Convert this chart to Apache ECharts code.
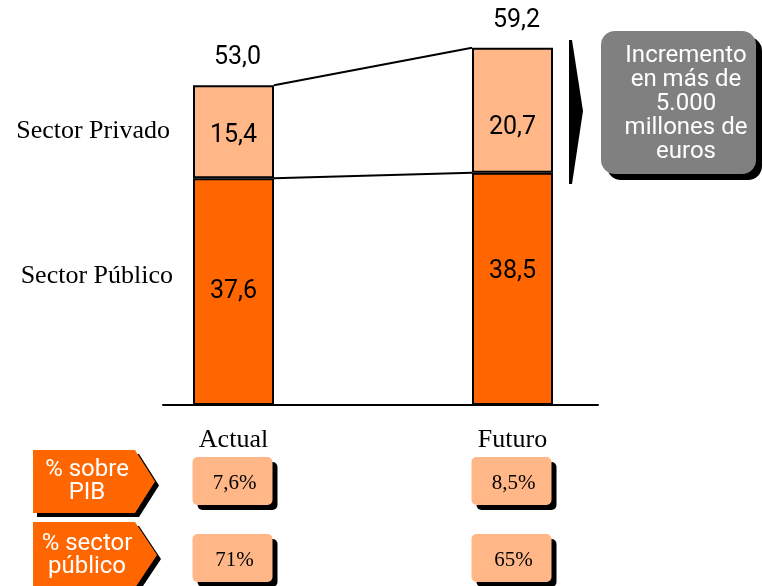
<!DOCTYPE html>
<html>
<head>
<meta charset="utf-8">
<script src="https://cdn.jsdelivr.net/npm/echarts@6/dist/echarts.min.js"></script>
<style>
  html, body { margin: 0; padding: 0; background: #fff; }
  #chart { width: 763px; height: 586px; }
</style>
</head>
<body>
<div id="chart"></div>
<script>
// datos
const categories = ['Actual', 'Futuro'];
const sectorPublico = [37.6, 38.5];
const sectorPrivado = [15.4, 20.7];
const totals = [53.0, 59.2];
const pibShare = ['7,6%', '8,5%'];
const publicShare = ['71%', '65%'];
const rowLabels = ['Sector Privado', 'Sector Público'];
const noteLines = ['Incremento', 'en más de', '5.000', 'millones de', 'euros'];

const NUMF = "Roboto, 'Liberation Sans', sans-serif";
const SERIF = "'Liberation Serif', 'Times New Roman', serif";
const ORANGE = '#FF6600';
const PEACH = '#FFB787';
const barW = 81;
// desplazamiento vertical de las etiquetas dentro de las barras
const publicoOffsets = [0, -17];
const privadoOffsets = [4, 17];

const fmt = v => v.toFixed(1).replace('.', ',');

const chart = echarts.init(document.getElementById('chart'));

chart.setOption({
  animation: false,
  grid: [
    { left: 94, right: 111, top: 43, bottom: 181 },
    { left: 163, right: 165, top: 43, bottom: 181 }
  ],
  xAxis: [
    {
      type: 'category',
      data: categories,
      axisLine: { show: false },
      axisTick: { show: false },
      axisLabel: { color: '#000', fontFamily: SERIF, fontSize: 26, margin: 22 }
    },
    {
      type: 'value', gridIndex: 1, min: 0, max: 1,
      axisLine: { show: true, lineStyle: { color: '#000', width: 2 } },
      axisTick: { show: false }, axisLabel: { show: false }, splitLine: { show: false }
    }
  ],
  yAxis: [
    { type: 'value', min: 0, max: 60, show: false },
    { type: 'value', gridIndex: 1, show: false }
  ],
  series: [
    {
      name: 'Sector Público',
      type: 'bar',
      stack: 'total',
      barWidth: barW,
      data: sectorPublico.map((v, i) => ({ value: v, label: { offset: [0, publicoOffsets[i]] } })),
      itemStyle: { color: ORANGE, borderColor: '#000', borderWidth: 2 },
      label: {
        show: true, position: 'inside', color: '#000',
        fontFamily: NUMF, fontSize: 25,
        formatter: p => fmt(p.value)
      }
    },
    {
      name: 'Sector Privado',
      type: 'bar',
      stack: 'total',
      barWidth: barW,
      data: sectorPrivado.map((v, i) => ({ value: v, label: { offset: [0, privadoOffsets[i]] } })),
      itemStyle: { color: PEACH, borderColor: '#000', borderWidth: 2 },
      label: {
        show: true, position: 'inside', color: '#000',
        fontFamily: NUMF, fontSize: 25,
        formatter: p => fmt(p.value)
      }
    },
    {
      type: 'custom',
      data: categories.map((c, i) => [i, totals[i]]),
      encode: { x: 0, y: 1 },
      z: 5,
      renderItem(params, api) {
        const i = params.dataIndex;
        const half = barW / 2;
        const top = api.coord([i, totals[i]]);
        const children = [{
          type: 'text',
          style: {
            text: fmt(totals[i]), x: top[0] + 4, y: top[1] - 27,
            align: 'center', verticalAlign: 'middle',
            fontFamily: NUMF, fontSize: 25, fill: '#000'
          }
        }];
        if (i < categories.length - 1) {
          const nTop = api.coord([i + 1, totals[i + 1]]);
          const mid = api.coord([i, sectorPublico[i]]);
          const nMid = api.coord([i + 1, sectorPublico[i + 1]]);
          children.push({
            type: 'line',
            shape: { x1: top[0] + half, y1: top[1], x2: nTop[0] - half, y2: nTop[1] },
            style: { stroke: '#000', lineWidth: 2 }
          });
          children.push({
            type: 'line',
            shape: { x1: mid[0] + half, y1: mid[1], x2: nMid[0] - half, y2: nMid[1] },
            style: { stroke: '#000', lineWidth: 2 }
          });
        }
        return { type: 'group', children };
      }
    }
  ]
});

// elementos del recuadro inferior y la nota
const g = [];

// etiquetas de fila
g.push({ type: 'text', right: 763 - 170, top: 118, style: { text: rowLabels[0], font: '26px ' + SERIF, fill: '#000' } });
g.push({ type: 'text', right: 763 - 173, top: 263, style: { text: rowLabels[1], font: '26px ' + SERIF, fill: '#000' } });

// flechas naranjas
function pointer(y0, y1, tip, lines) {
  const pts = [[33, y0], [135, y0], [tip, (y0 + y1) / 2], [135, y1], [33, y1]];
  g.push({ type: 'polygon', shape: { points: pts.map(p => [p[0] + 4, p[1] + 4]) }, style: { fill: '#000' } });
  g.push({ type: 'polygon', shape: { points: pts }, style: { fill: ORANGE } });
  g.push({
    type: 'text', x: 87, y: (y0 + y1) / 2,
    style: {
      text: lines.join('\n'), font: '24px ' + NUMF, fill: '#fff',
      align: 'center', verticalAlign: 'middle', lineHeight: 23
    }
  });
}
pointer(450, 513, 155, ['% sobre', 'PIB']);
pointer(522, 588, 157, ['% sector', 'público']);

// cajas de valores
function valueBox(cx, y0, text) {
  const x0 = cx - 41;
  g.push({ type: 'rect', shape: { x: x0 + 5, y: y0 + 5, width: 80, height: 48, r: 5 }, style: { fill: '#000' } });
  g.push({ type: 'rect', shape: { x: x0, y: y0, width: 80, height: 48, r: 5 }, style: { fill: PEACH } });
  g.push({
    type: 'text', x: cx + 1, y: y0 + 26,
    style: { text, font: '21px ' + SERIF, fill: '#000', align: 'center', verticalAlign: 'middle' }
  });
}
categories.forEach((c, i) => {
  const cx = chart.convertToPixel({ xAxisIndex: 0 }, c);
  valueBox(cx, 457, pibShare[i]);
  valueBox(cx, 534, publicShare[i]);
});

// flecha negra y nota gris
g.push({
  type: 'polygon',
  shape: { points: [[569, 40], [572, 40], [583, 111], [572, 184], [569, 184]] },
  style: { fill: '#000' }
});
g.push({ type: 'rect', shape: { x: 607, y: 37, width: 155, height: 143, r: 14 }, style: { fill: '#000' } });
g.push({ type: 'rect', shape: { x: 601, y: 31, width: 155, height: 143, r: 14 }, style: { fill: '#808080' } });
g.push({
  type: 'text', x: 686, y: 104,
  style: {
    text: noteLines.join('\n'), font: '24px ' + NUMF, fill: '#fff',
    align: 'center', verticalAlign: 'middle', lineHeight: 24
  }
});

chart.setOption({ graphic: g });
</script>
</body>
</html>
